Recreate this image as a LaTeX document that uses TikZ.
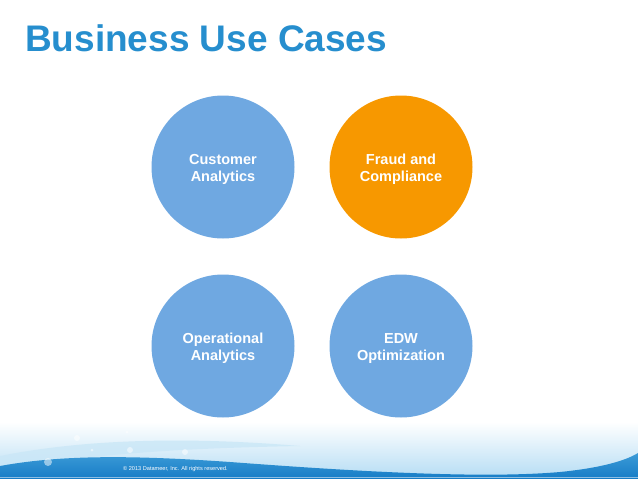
\documentclass[tikz,border=0pt]{standalone}
\usepackage{fontspec}
\setmainfont{Liberation Sans}
\definecolor{titleblue}{RGB}{38,142,206}
\definecolor{caseblue}{RGB}{111,168,225}
\definecolor{caseorange}{RGB}{247,152,0}
\definecolor{waveblue}{RGB}{22,124,198}
\definecolor{wavetop}{RGB}{60,155,215}
\definecolor{wavelight}{RGB}{180,220,244}
\tikzset{
  usecase/.style={circle, minimum size=143pt, inner sep=0pt},
  casetext/.style={inner sep=0pt, text=white, align=center,
    font=\fontsize{14.5}{17}\selectfont\bfseries},
  bubble/.style={fill=white, opacity=0.5},
}
\begin{document}
\begin{tikzpicture}[x=1pt, y=-1pt]
	\useasboundingbox (0,0) rectangle (638,479);
	
	% Fondo del pie de página
	\shade[top color=white, bottom color=wavelight] (0,422) rectangle (638,479);
	\fill[wavelight!70!white, opacity=0.8] (0,456) .. controls (80,440) and (180,436) .. (300,446)
		.. controls (200,448) and (100,452) .. (0,470) -- cycle;
	
	% Ola azul
	\shade[top color=wavetop, bottom color=waveblue]
		(0,466) .. controls (60,455) and (130,455) .. (230,462)
		.. controls (350,471) and (480,479) .. (560,472)
		.. controls (600,468) and (625,461) .. (638,453) -- (638,479) -- (0,479) -- cycle;
	\draw[white, opacity=0.5, line width=0.8pt] (0,477.5) -- (638,477.5);
	
	% Burbujas
	\fill[bubble] (77,438) circle (3);
	\fill[bubble] (127,432) circle (1.5);
	\fill[bubble] (130,450) circle (3);
	\fill[bubble] (48,462) circle (4);
	\fill[bubble] (185,452) circle (3);
	\fill[bubble] (92,450) circle (1.5);
	
	% Título
	\node[anchor=base west, inner sep=0pt, text=titleblue,
		font=\fontsize{37}{40}\selectfont\bfseries] (title) at (25,52) {Business Use Cases};
	
	% Casos de uso
	\node[usecase, fill=caseblue] (customer) at (223,167) {};
	\node[usecase, fill=caseorange] (fraud) at (401,167) {};
	\node[usecase, fill=caseblue] (operational) at (223,346) {};
	\node[usecase, fill=caseblue] (edw) at (401,346) {};
	
	\node[casetext] (customertext) at ([yshift=-2.5pt]customer) {Customer\\Analytics};
	\node[casetext] (fraudtext) at ([yshift=-2.5pt]fraud) {Fraud and\\Compliance};
	\node[casetext] (operationaltext) at ([yshift=-2.5pt]operational) {Operational\\Analytics};
	\node[casetext] (edwtext) at ([yshift=-2.5pt]edw) {EDW\\Optimization};
	
	% Copyright
	\node[anchor=base west, inner sep=0pt, text=white,
		font=\fontsize{5.6}{6}\selectfont] (copyright) at (123,470) {\textcopyright{} 2013 Datameer, Inc. All rights reserved.};
\end{tikzpicture}
\end{document}
